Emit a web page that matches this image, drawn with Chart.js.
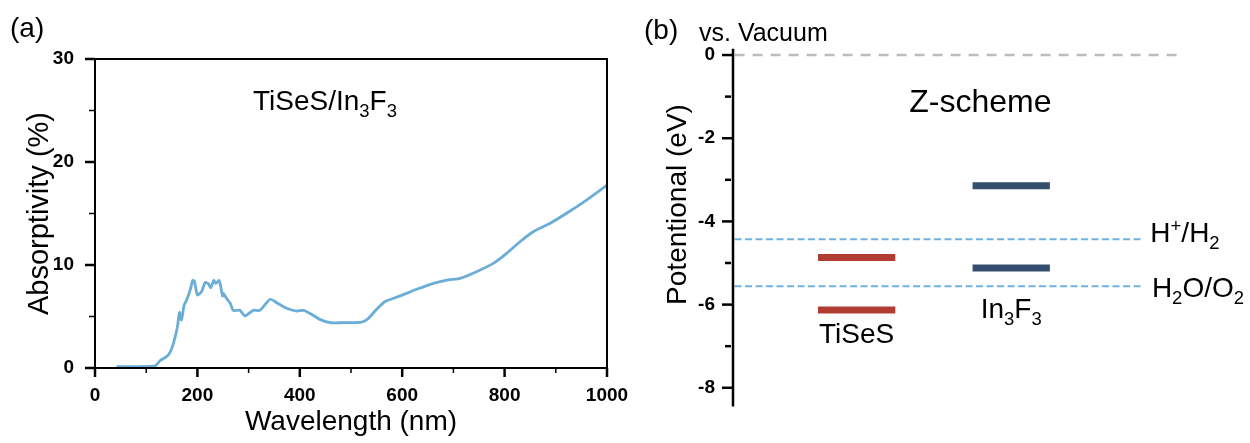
<!DOCTYPE html>
<html>
<head>
<meta charset="utf-8">
<script src="https://cdn.jsdelivr.net/npm/chart.js@4"></script>
<style>
  html, body { margin: 0; padding: 0; background: #fff; }
  #wrap { position: relative; width: 1250px; height: 443px; overflow: hidden; }
  #absChart { position: absolute; left: 0; top: 0; }
  #bandChart { position: absolute; left: 625px; top: 0; }
</style>
</head>
<body>
<div id="wrap">
  <canvas id="absChart" width="660" height="443"></canvas>
  <canvas id="bandChart" width="625" height="443"></canvas>
</div>
<script>
// (a) absorption spectrum of the heterostructure
const wavelength = [42, 117, 127, 143, 152, 161, 165, 169, 174, 179, 186, 191, 194, 200, 208, 215, 221, 226,
    232, 236, 242, 245, 249, 251, 257, 264, 270, 283, 293, 309, 322, 342, 355, 374, 394, 407, 420, 439,
    459, 485, 521, 534, 550, 566, 596, 628, 661, 690, 713, 745, 778, 804, 830, 856, 889, 921, 960, 1000];
const absorptivity = [0.13, 0.2, 0.7, 1.26, 2.2, 4.0, 5.4, 4.66, 6.1, 6.6, 7.6, 8.5, 8.45, 7.1, 7.4, 8.3, 8.2, 7.8,
    8.5, 8.2, 8.5, 8.05, 7.0, 7.25, 6.75, 6.3, 5.6, 5.6, 5.05, 5.6, 5.6, 6.67, 6.34, 5.8, 5.53, 5.6, 5.3, 4.72,
    4.4, 4.4, 4.45, 4.82, 5.7, 6.44, 7.0, 7.64, 8.22, 8.55, 8.7, 9.35, 10.16, 11.13, 12.26, 13.23, 14.05, 15.02, 16.3, 17.75];
const xTicks = [0, 200, 400, 600, 800, 1000];
const yTicks = [0, 10, 20, 30];

// (b) band edges vs. vacuum level (eV)
const materials = ['TiSeS', 'In3F3'];
const materialPos = [1, 2];
const cbm = [-4.87, -3.14];
const vbm = [-6.13, -5.12];
const redoxNames = ['H+/H2', 'H2O/O2'];
const redoxLevels = [-4.43, -5.56];
const vacuumLevel = 0;
const potentialTicks = [0, -2, -4, -6, -8];

const FONT = '"Liberation Sans", Arial, Helvetica, sans-serif';
Chart.defaults.font.family = FONT;
Chart.defaults.color = '#000';

// text with subscripts / superscripts, parts = [[text, 'sub'|'sup'|'']]
function drawRich(ctx, parts, x, y, size, align) {
    const small = size * 0.66;
    let total = 0;
    parts.forEach(([t, m]) => {
        ctx.font = `${m ? small : size}px ${FONT}`;
        total += ctx.measureText(t).width;
    });
    let cx = align === 'center' ? x - total / 2 : x;
    ctx.textAlign = 'left';
    ctx.textBaseline = 'alphabetic';
    parts.forEach(([t, m]) => {
        ctx.font = `${m ? small : size}px ${FONT}`;
        const dy = m === 'sub' ? size * 0.24 : m === 'sup' ? -size * 0.36 : 0;
        ctx.fillText(t, cx, y + dy);
        cx += ctx.measureText(t).width;
    });
}

function tick(ctx, x1, y1, x2, y2, w) {
    ctx.lineWidth = w;
    ctx.beginPath();
    ctx.moveTo(x1, y1);
    ctx.lineTo(x2, y2);
    ctx.stroke();
}

const absFrame = {
    id: 'absFrame',
    afterDraw(chart) {
        const { ctx, chartArea: a, scales: { x, y } } = chart;
        ctx.save();
        ctx.strokeStyle = '#000';
        ctx.lineWidth = 2;
        ctx.strokeRect(a.left, a.top, a.right - a.left, a.bottom - a.top);
        for (let v = 0; v <= 1000; v += 100) {
            const px = x.getPixelForValue(v);
            const major = xTicks.includes(v);
            tick(ctx, px, a.bottom, px, a.bottom + (major ? 9 : 5), major ? 2.5 : 1.5);
        }
        for (let v = 0; v <= 30; v += 5) {
            const py = y.getPixelForValue(v);
            const major = yTicks.includes(v);
            tick(ctx, a.left, py, a.left - (major ? 10 : 6), py, major ? 2.5 : 1.5);
        }
        ctx.fillStyle = '#000';
        drawRich(ctx, [['(a)', '']], 10, 37, 28, 'left');
        drawRich(ctx, [['TiSeS/In', ''], ['3', 'sub'], ['F', ''], ['3', 'sub']], 253, 110, 28, 'left');
        ctx.restore();
    }
};

new Chart(document.getElementById('absChart'), {
    type: 'line',
    data: {
        datasets: [{
            data: wavelength.map((w, i) => ({ x: w, y: absorptivity[i] })),
            borderColor: '#6aaed8',
            borderWidth: 2.8,
            pointRadius: 0,
            tension: 0.2,
            fill: false
        }]
    },
    options: {
        responsive: false,
        animation: false,
        devicePixelRatio: 1,
        layout: { padding: { left: 0, right: 53, top: 59, bottom: 0 } },
        plugins: { legend: { display: false }, tooltip: { enabled: false } },
        scales: {
            x: {
                type: 'linear', min: 0, max: 1000,
                grid: { display: false, drawTicks: false },
                border: { display: false },
                ticks: {
                    stepSize: 100, autoSkip: false, maxRotation: 0, padding: 16,
                    font: { size: 19, weight: 'bold' },
                    callback: v => xTicks.includes(v) ? String(v) : ''
                },
                title: { display: true, text: 'Wavelength (nm)', font: { size: 28, lineHeight: 1 }, padding: { top: 0, bottom: 7 } },
                afterFit: s => { s.height = 75; }
            },
            y: {
                type: 'linear', min: 0, max: 30,
                grid: { display: false, drawTicks: false },
                border: { display: false },
                ticks: {
                    stepSize: 5, autoSkip: false, padding: 21,
                    font: { size: 19, weight: 'bold' },
                    callback: v => yTicks.includes(v) ? String(v) : ''
                },
                title: { display: true, text: 'Absorptivity (%)', font: { size: 29, lineHeight: 1 }, padding: { top: 25, bottom: 0 } },
                afterFit: s => { s.width = 95; }
            }
        }
    },
    plugins: [absFrame]
});

// band diagram
const BAR_HALF = 0.25;
const REDOX_END = 2.85;
const VAC_END = 3.12;
const X_START = 0.21;
const bandColors = ['#b13c31', '#344e6e'];

const bandSets = [];
materials.forEach((m, i) => {
    [cbm[i], vbm[i]].forEach(e => {
        bandSets.push({
            data: [{ x: materialPos[i] - BAR_HALF, y: e }, { x: materialPos[i] + BAR_HALF, y: e }],
            borderColor: bandColors[i], borderWidth: 7, borderCapStyle: 'butt', pointRadius: 0
        });
    });
});
redoxLevels.forEach(e => {
    bandSets.push({
        data: [{ x: X_START, y: e }, { x: REDOX_END, y: e }],
        borderColor: '#70b1dd', borderWidth: 2, borderDash: [7, 3.5], pointRadius: 0
    });
});
bandSets.push({
    data: [{ x: X_START, y: vacuumLevel }, { x: VAC_END, y: vacuumLevel }],
    borderColor: '#bdbdbd', borderWidth: 2.5, borderDash: [10, 8], pointRadius: 0
});

const bandLabels = [
    { parts: [['TiSeS', '']], x: materialPos[0], y: -6.92, align: 'center' },
    { parts: [['In', ''], ['3', 'sub'], ['F', ''], ['3', 'sub']], x: materialPos[1], y: -6.32, align: 'center' },
    { parts: [['H', ''], ['+', 'sup'], ['/H', ''], ['2', 'sub']], x: 2.9, y: -4.5, align: 'left' },
    { parts: [['H', ''], ['2', 'sub'], ['O/O', ''], ['2', 'sub']], x: 2.91, y: -5.82, align: 'left' }
];

const bandFrame = {
    id: 'bandFrame',
    afterDraw(chart) {
        const { ctx, chartArea: a, scales: { x, y } } = chart;
        ctx.save();
        ctx.strokeStyle = '#000';
        tick(ctx, a.left, a.top, a.left, a.bottom, 2.5);
        for (let v = -8; v <= 0; v++) {
            const py = y.getPixelForValue(v);
            if (potentialTicks.includes(v)) tick(ctx, a.left, py, a.left - 11, py, 2.5);
            else tick(ctx, a.left - 2, py, a.left - 8, py, 2.5);
        }
        ctx.fillStyle = '#000';
        bandLabels.forEach(l => drawRich(ctx, l.parts, x.getPixelForValue(l.x), y.getPixelForValue(l.y), 28, l.align));
        drawRich(ctx, [['Z-scheme', '']], x.getPixelForValue(1.8), y.getPixelForValue(-1.37), 32, 'center');
        drawRich(ctx, [['(b)', '']], 19, 39, 28, 'left');
        drawRich(ctx, [['vs. Vacuum', '']], 74, 41, 25, 'left');
        ctx.translate(53, 204.5);
        ctx.rotate(-Math.PI / 2);
        ctx.font = `28px ${FONT}`;
        ctx.textAlign = 'center';
        ctx.textBaseline = 'middle';
        ctx.fillText('Potentional (eV)', 0, 0);
        ctx.restore();
    }
};

new Chart(document.getElementById('bandChart'), {
    type: 'line',
    data: { datasets: bandSets },
    options: {
        responsive: false,
        animation: false,
        devicePixelRatio: 1,
        layout: { padding: { left: 0, right: 10, top: 48.8, bottom: 36.5 } },
        plugins: { legend: { display: false }, tooltip: { enabled: false } },
        scales: {
            x: { type: 'linear', min: 0.2, max: 3.48, display: false },
            y: {
                type: 'linear', min: -8.45, max: 0.15,
                grid: { display: false, drawTicks: false },
                border: { display: false },
                afterBuildTicks: s => { s.ticks = potentialTicks.map(v => ({ value: v })); },
                ticks: {
                    autoSkip: false, padding: 18,
                    font: { size: 19, weight: 'bold' },
                    callback: v => String(v)
                },
                afterFit: s => { s.width = 108; }
            }
        }
    },
    plugins: [bandFrame]
});
</script>
</body>
</html>
